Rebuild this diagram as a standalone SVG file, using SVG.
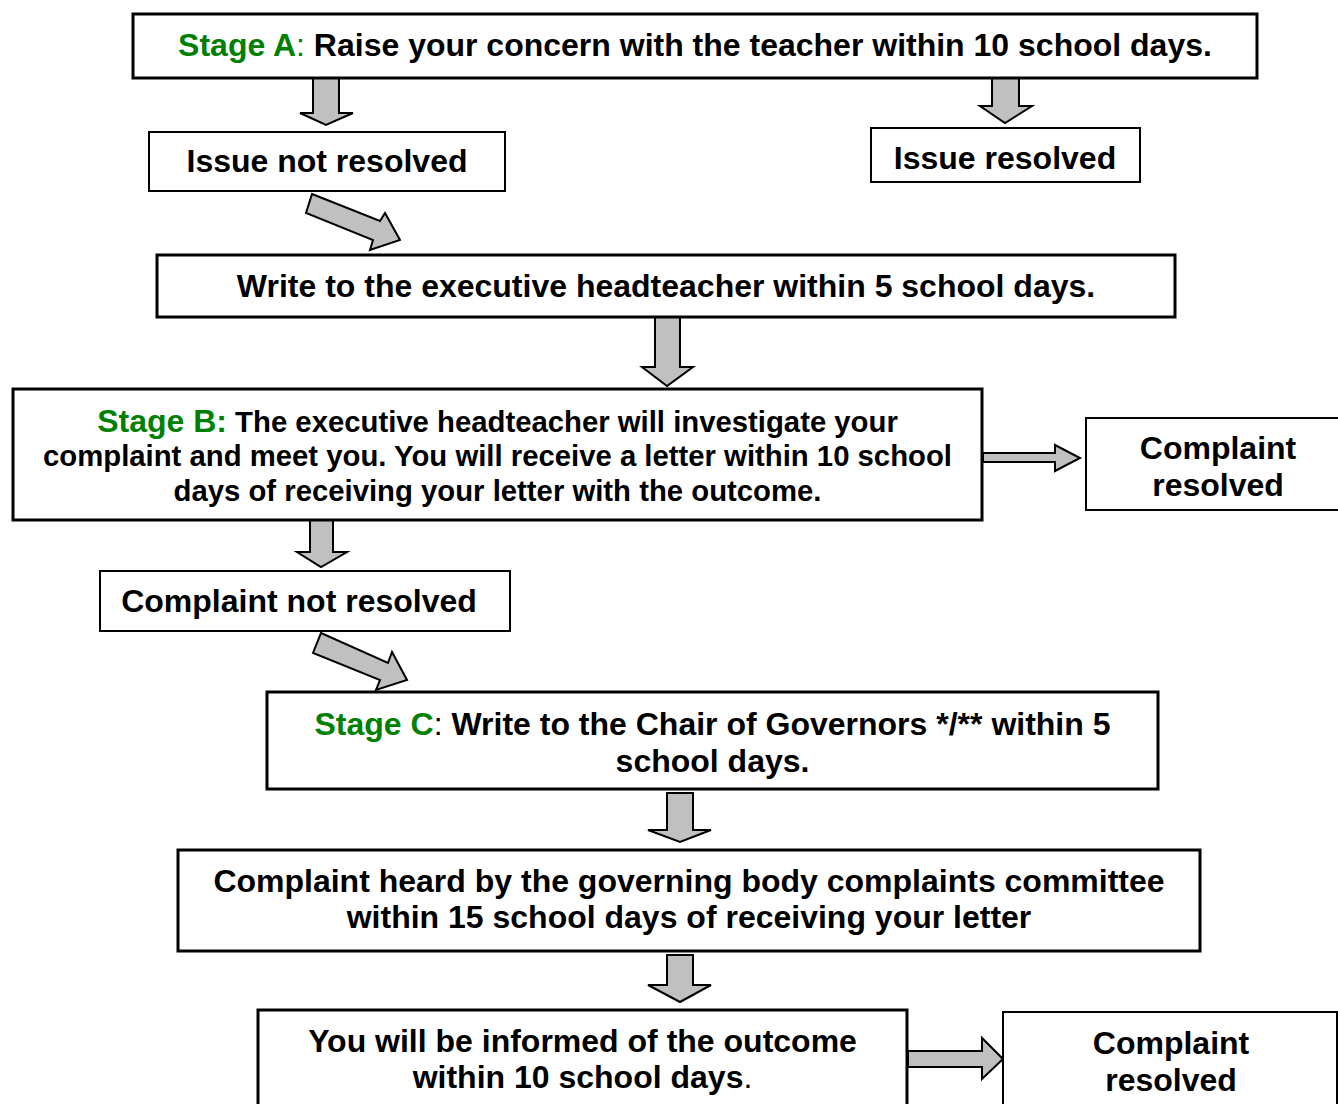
<svg xmlns="http://www.w3.org/2000/svg" width="1338" height="1104" viewBox="0 0 1338 1104">
<style>
.box{fill:#fff;stroke:#000;stroke-width:3}
.thin{stroke-width:2}
.arr{fill:#c0c0c0;stroke:#000;stroke-width:2;stroke-linejoin:miter}
text{font-family:"Liberation Sans",Arial,sans-serif;font-weight:bold;font-size:32px;fill:#000;text-anchor:middle}
.g{fill:#008000}
.n{font-weight:normal}
.s{font-size:29.3px}
</style>
<rect width="1338" height="1104" fill="#fff"/>
<g id="connectors">
<polygon class="arr" points="313,78 339,78 339,113 353,113 326,125 300,113 313,113"/>
<polygon class="arr" points="992,77 1019,77 1019,106 1032,106 1005,123 980,106 992,106"/>
<polygon class="arr" points="312,194 380,221 385,213 400,240 370,250 373,240 306,213"/>
<polygon class="arr" points="655,313 680,313 680,367 693,367 667,386 642,367 655,367"/>
<polygon class="arr" points="983,453 1055,453 1055,445 1080,458 1055,471 1055,462 983,462"/>
<polygon class="arr" points="310,518 333,518 333,552 347,552 321,567 297,552 310,552"/>
<polygon class="arr" points="321,633 388,663 392,652 407,680 376,690 380,680 313,653"/>
<polygon class="arr" points="667,793 693,793 693,830 711,830 680,842 648,830 667,830"/>
<polygon class="arr" points="667,955 693,955 693,985 711,985 680,1002 648,985 667,985"/>
<polygon class="arr" points="908,1051 982,1051 982,1038 1003,1059 982,1079 982,1067 908,1067"/>
</g>
<g id="stageA">
<rect class="box" x="133" y="14" width="1124" height="64"/>
<text x="695" y="56"><tspan class="g">Stage A</tspan><tspan class="g n">:</tspan> Raise your concern with the teacher within 10 school days.</text>
</g>
<g id="issueNotResolved">
<rect class="box thin" x="149" y="132" width="356" height="59"/>
<text x="327" y="172">Issue not resolved</text>
</g>
<g id="issueResolved">
<rect class="box thin" x="871" y="128" width="269" height="54"/>
<text x="1005" y="169">Issue resolved</text>
</g>
<g id="writeHead">
<rect class="box" x="157" y="255" width="1018" height="62"/>
<text x="666" y="297">Write to the executive headteacher within 5 school days.</text>
</g>
<g id="stageB">
<rect class="box" x="13" y="389" width="969" height="131"/>
<text x="497.5" y="432"><tspan class="g">Stage B:</tspan><tspan class="s"> The executive headteacher will investigate your</tspan></text>
<text class="s" x="497.5" y="466">complaint and meet you. You will receive a letter within 10 school</text>
<text class="s" x="497.5" y="501">days of receiving your letter with the outcome.</text>
</g>
<g id="complaintResolved1">
<rect class="box thin" x="1086" y="418" width="256" height="92"/>
<text x="1218" y="459">Complaint</text>
<text x="1218" y="496">resolved</text>
</g>
<g id="complaintNotResolved">
<rect class="box thin" x="100" y="571" width="410" height="60"/>
<text x="299" y="612">Complaint not resolved</text>
</g>
<g id="stageC">
<rect class="box" x="267" y="692" width="891" height="97"/>
<text x="712.5" y="735"><tspan class="g">Stage C</tspan><tspan class="n">:</tspan> Write to the Chair of Governors */** within 5</text>
<text x="712.5" y="772">school days.</text>
</g>
<g id="committee">
<rect class="box" x="178" y="850" width="1022" height="101"/>
<text x="689" y="892">Complaint heard by the governing body complaints committee</text>
<text x="689" y="928">within 15 school days of receiving your letter</text>
</g>
<g id="outcome">
<rect class="box" x="258" y="1010" width="649" height="100"/>
<text x="582.5" y="1052">You will be informed of the outcome</text>
<text x="582.5" y="1088">within 10 school days<tspan class="n">.</tspan></text>
</g>
<g id="complaintResolved2">
<rect class="box thin" x="1003" y="1012" width="334" height="100"/>
<text x="1171" y="1054">Complaint</text>
<text x="1171" y="1091">resolved</text>
</g>
</svg>
